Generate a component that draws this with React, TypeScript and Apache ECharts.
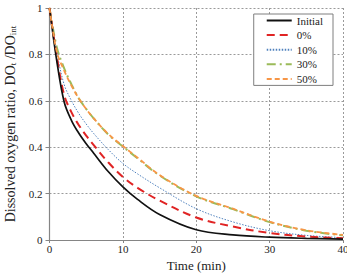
import React, { useEffect, useRef } from "react";
import * as echarts from "echarts";

// Sampling times (min)
const timeMin = [0, 1, 2, 3, 4, 5, 6, 8, 10, 12, 15, 20, 25, 30, 35, 40];

// Dissolved oxygen ratio DO_t / DO_int for each condition
const initialRatio = [1, 0.77, 0.595, 0.515, 0.46, 0.415, 0.375, 0.295, 0.229, 0.175, 0.11, 0.044, 0.022, 0.012, 0.007, 0.004];
const ratio0 = [1, 0.79, 0.625, 0.55, 0.495, 0.45, 0.41, 0.335, 0.272, 0.225, 0.17, 0.097, 0.058, 0.03, 0.015, 0.008];
const ratio10 = [1, 0.81, 0.67, 0.6, 0.545, 0.5, 0.46, 0.39, 0.33, 0.285, 0.225, 0.135, 0.078, 0.04, 0.02, 0.01];
const ratio30 = [1, 0.83, 0.74, 0.67, 0.61, 0.565, 0.525, 0.455, 0.403, 0.352, 0.278, 0.188, 0.133, 0.077, 0.04, 0.02];
const ratio50 = [1, 0.81, 0.73, 0.665, 0.61, 0.565, 0.525, 0.457, 0.405, 0.355, 0.28, 0.19, 0.135, 0.079, 0.042, 0.022];

const seriesNames = ["Initial", "0%", "10%", "30%", "50%"];

const yTicks = [0, 0.2, 0.4, 0.6, 0.8, 1];
const xTicks = [0, 10, 20, 30, 40];

const FONT = "'Liberation Serif', 'DejaVu Serif', serif";

function pairs(values: number[]) {
  return timeMin.map((t, i) => [t, values[i]]);
}

export default function App() {
  const ref = useRef<HTMLDivElement>(null);

  useEffect(() => {
    document.body.style.margin = "0";
    document.body.style.overflow = "hidden";
    if (!ref.current) return;
    const chart = echarts.init(ref.current, null, { renderer: "svg" });

    const lineSeries = (
      name: string,
      values: number[],
      color: string,
      width: number,
      type: any,
      z: number
    ) => ({
      name,
      type: "line",
      data: pairs(values),
      smooth: 0.35,
      symbol: "none",
      showSymbol: false,
      z,
      lineStyle: { color, width, type },
      itemStyle: { color },
    });

    chart.setOption({
      animation: false,
      backgroundColor: "#ffffff",
      grid: {
        left: 49.5,
        right: 4,
        top: 8,
        bottom: 33,
        containLabel: false,
        outerBoundsMode: "none",
      },
      legend: {
        data: seriesNames,
        orient: "vertical",
        right: 14,
        top: 14,
        padding: [1, 10, 1, 12],
        itemWidth: 25,
        itemHeight: 10,
        itemGap: 3.6,
        backgroundColor: "#ffffff",
        borderColor: "#7f7f7f",
        borderWidth: 1,
        borderRadius: 0,
        itemStyle: { opacity: 0 },
        textStyle: { fontFamily: FONT, fontSize: 11, color: "#222" },
      },
      xAxis: {
        type: "value",
        min: xTicks[0],
        max: xTicks[xTicks.length - 1],
        interval: 10,
        name: "Time (min)",
        nameLocation: "middle",
        nameGap: 16,
        nameTextStyle: { fontFamily: FONT, fontSize: 13, lineHeight: 14, color: "#222" },
        axisLine: { show: true, lineStyle: { color: "#858585", width: 1.2 } },
        axisTick: { show: true, inside: false, length: 3, lineStyle: { color: "#858585" } },
        axisLabel: { fontFamily: FONT, fontSize: 11, color: "#222", margin: 3 },
        splitLine: { show: true, lineStyle: { color: "#9a9a9a", type: [2, 2], width: 1 } },
      },
      yAxis: {
        type: "value",
        min: yTicks[0],
        max: yTicks[yTicks.length - 1],
        interval: 0.2,
        name: "{n|Dissolved oxygen ratio, DO}{s|t}{n| /DO}{s|int}",
        nameLocation: "middle",
        nameRotate: 90,
        nameGap: 31,
        nameTextStyle: {
          fontFamily: FONT,
          fontSize: 14,
          color: "#222",
          rich: {
            n: { fontFamily: FONT, fontSize: 14, color: "#222" },
            s: { fontFamily: FONT, fontSize: 9, color: "#222", padding: [6, 0, 0, 0] },
          },
        },
        axisLine: { show: true, lineStyle: { color: "#858585", width: 1.2 } },
        axisTick: { show: true, inside: false, length: 4, lineStyle: { color: "#858585" } },
        axisLabel: { fontFamily: FONT, fontSize: 11, color: "#222", margin: 7 },
        splitLine: { show: true, lineStyle: { color: "#9a9a9a", type: [2, 2], width: 1 } },
      },
      series: [
        lineSeries("Initial", initialRatio, "#111111", 1.7, "solid", 5),
        lineSeries("0%", ratio0, "#e02424", 2, [8, 5], 4),
        lineSeries("10%", ratio10, "#4f81bd", 1, [1.5, 1.5], 3),
        lineSeries("30%", ratio30, "#9bbb59", 2, [9, 4, 2, 4], 2),
        lineSeries("50%", ratio50, "#f79646", 1.8, [5, 3], 6),
      ],
    });

    return () => chart.dispose();
  }, []);

  return (
    <div
      ref={ref}
      style={{ position: "absolute", left: 0, top: 0, width: 347, height: 273 }}
    />
  );
}
